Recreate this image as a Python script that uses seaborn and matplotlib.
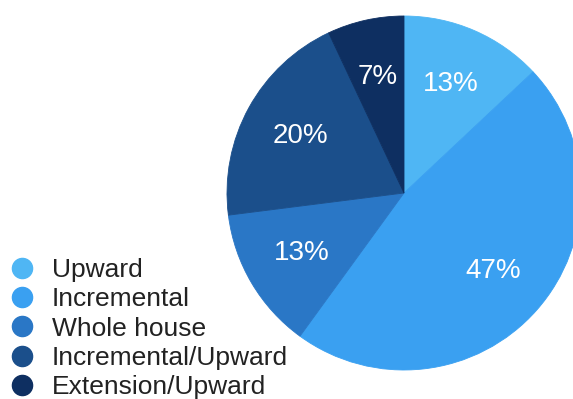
import matplotlib
matplotlib.use("Agg")
import matplotlib.pyplot as plt
from matplotlib.lines import Line2D
import seaborn as sns

# Share of extension types
categories = ["Upward", "Incremental", "Whole house", "Incremental/Upward", "Extension/Upward"]
shares = [13, 47, 13, 20, 7]
colors = ["#4fb6f4", "#3aa0f1", "#2a77c6", "#1b4f8b", "#0e2f61"]

sns.set_theme(style="white")
plt.rcParams["font.family"] = ["Liberation Sans", "DejaVu Sans"]

W, H = 573, 399
fig = plt.figure(figsize=(W / 100, H / 100), dpi=100)

# pie centred at (404, 193) px with radius 177 px
cx, cy, r = 404, 193, 177
ax = fig.add_axes([(cx - r) / W, (H - cy - r) / H, 2 * r / W, 2 * r / H])
wedges, _, autotexts = ax.pie(
    shares,
    colors=colors,
    startangle=90,
    counterclock=False,
    radius=1,
    autopct=lambda p: f"{p:.0f}%",
    pctdistance=0.67,
    wedgeprops=dict(linewidth=0.6),
    textprops=dict(color="white", fontsize=20),
)
for w, c in zip(wedges, colors):
    w.set_edgecolor(c)
ax.set_xlim(-1, 1)
ax.set_ylim(-1, 1)
ax.set_aspect("auto")
ax.axis("off")

handles = [
    Line2D([], [], marker="o", linestyle="none", markersize=14.5,
           markerfacecolor=c, markeredgecolor=c)
    for c in colors
]
fig.legend(
    handles, categories,
    loc="upper left",
    bbox_to_anchor=(9 / W, 1 - 258 / H),
    frameon=False,
    fontsize=19,
    borderpad=0, borderaxespad=0,
    handlelength=1.0, handletextpad=0.62,
    labelspacing=0.2,
    labelcolor="#222222",
)

fig.savefig("out.png", dpi=100)
